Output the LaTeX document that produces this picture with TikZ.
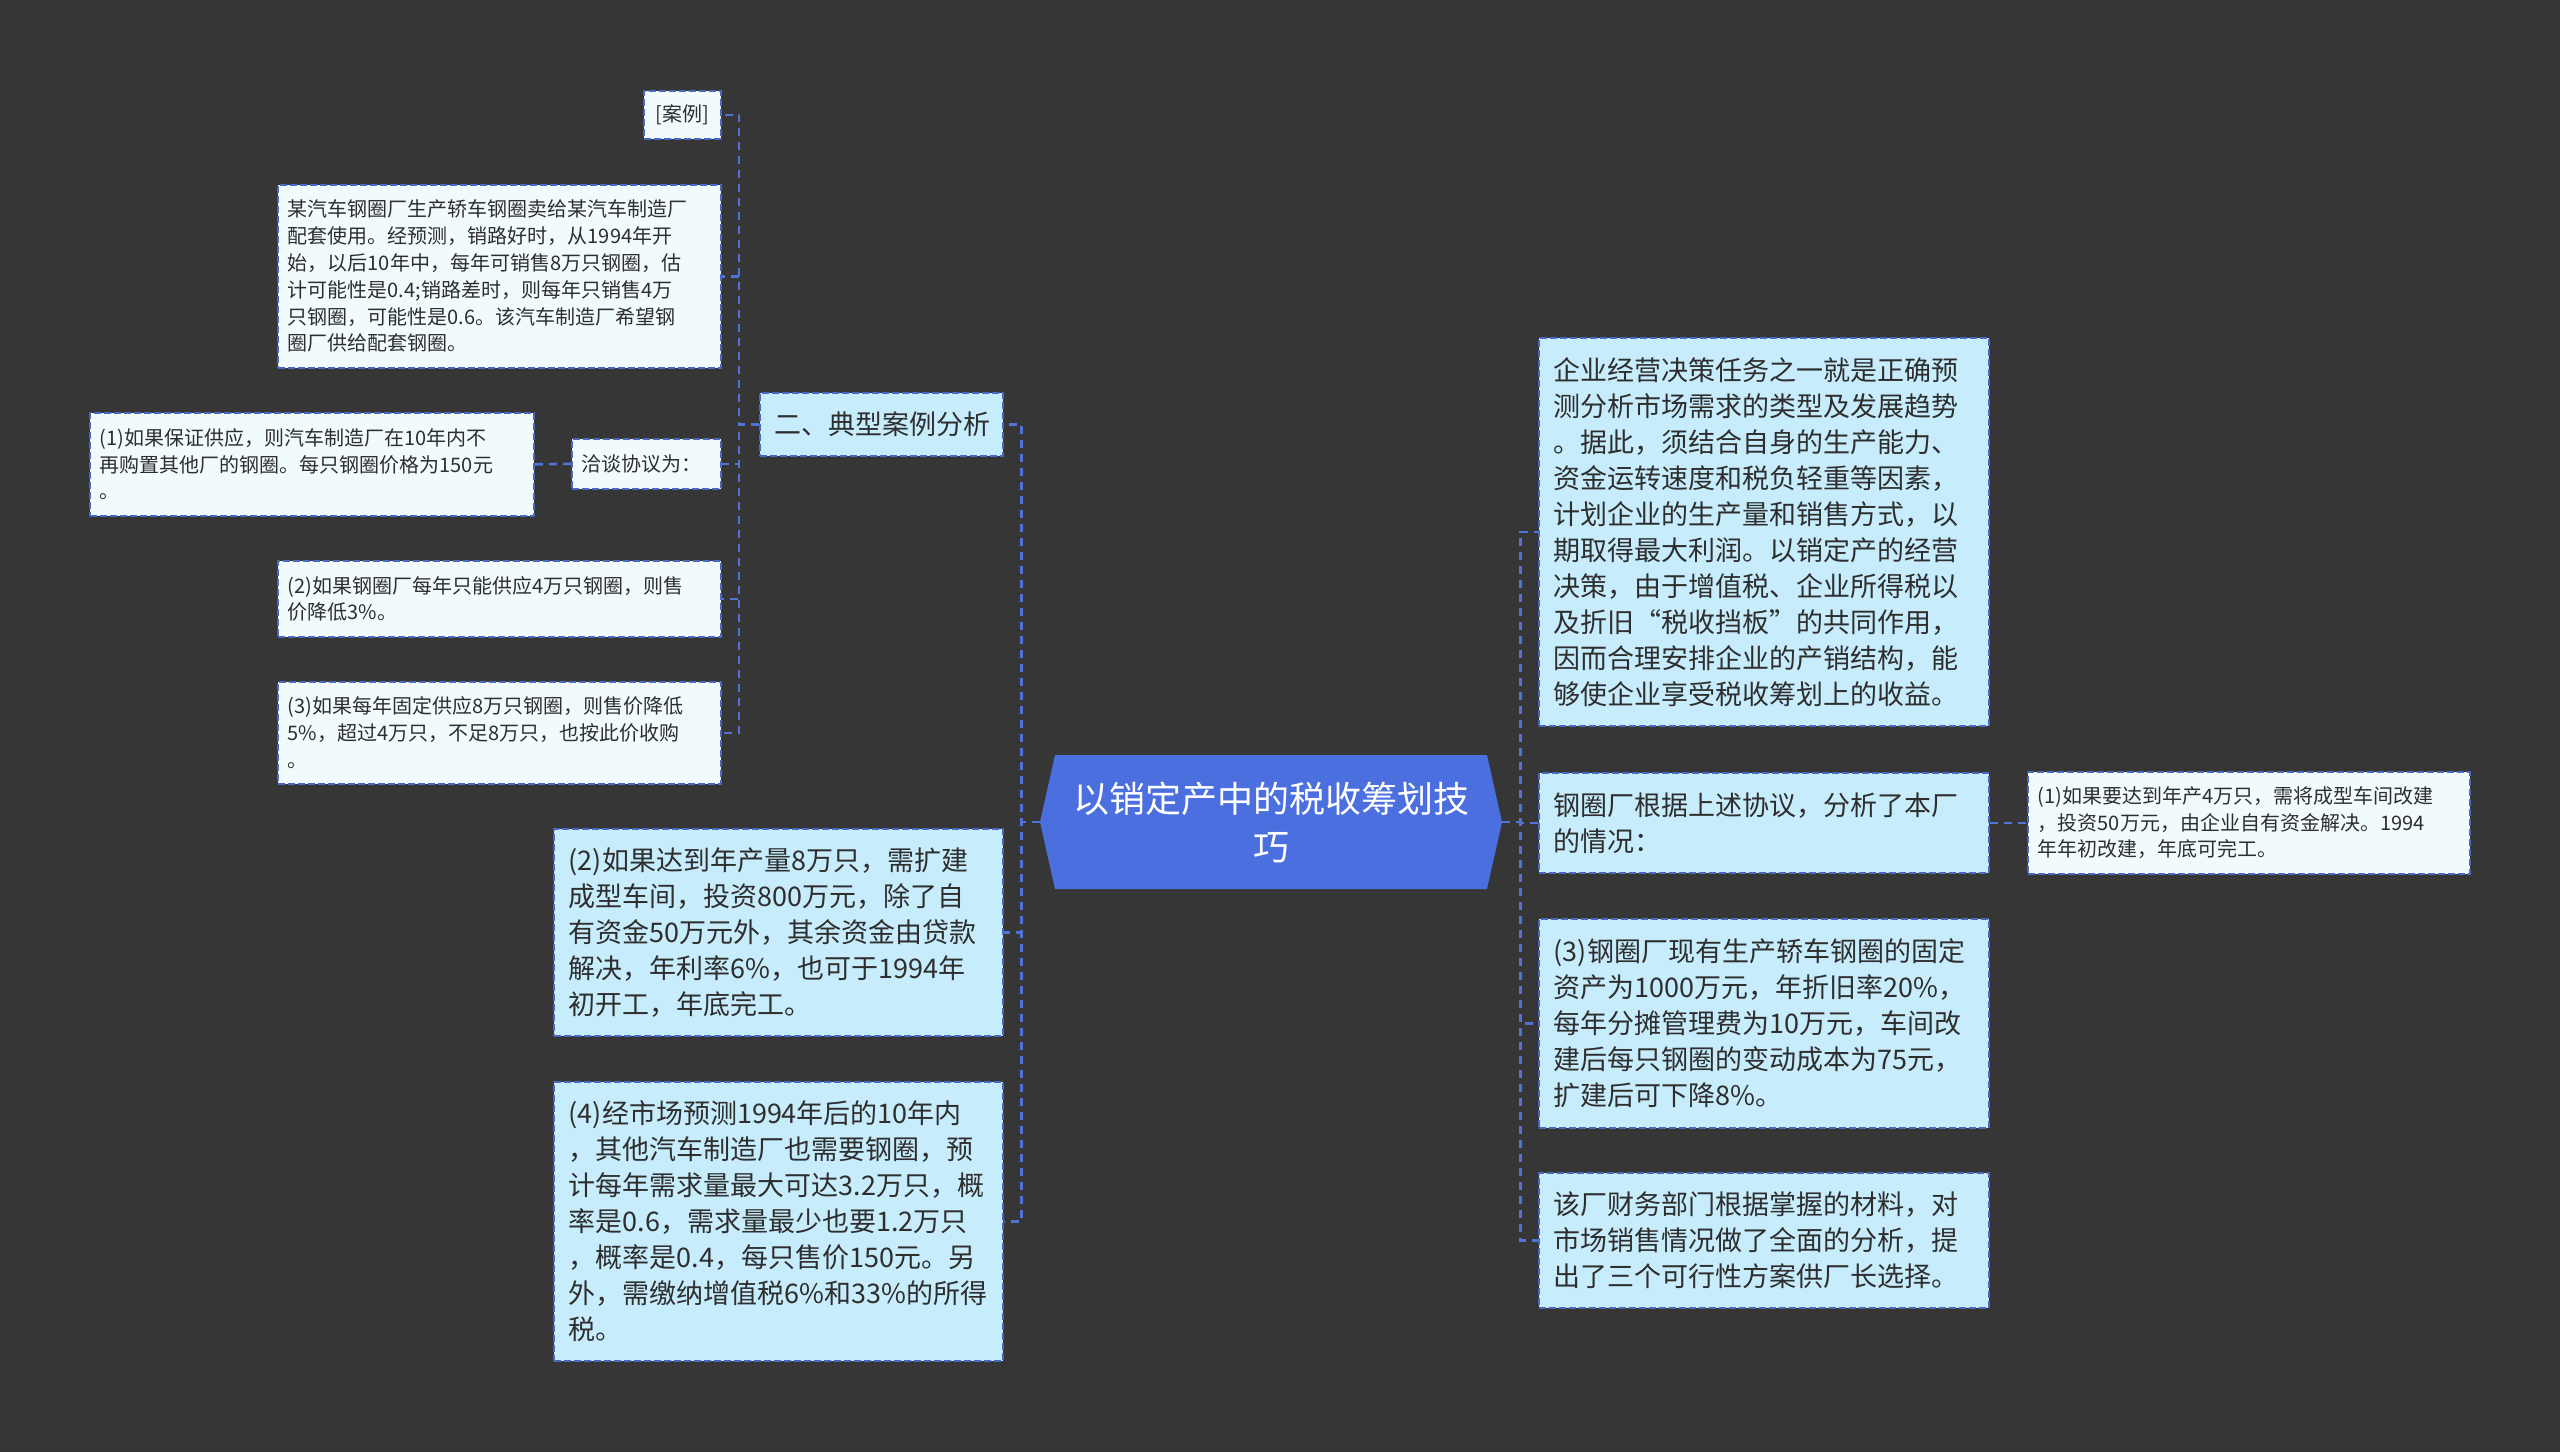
\documentclass[tikz,border=0pt]{standalone}
\usepackage{fontspec}
\setmainfont{Noto Sans CJK SC}
\definecolor{bgc}{HTML}{363636}
\definecolor{lineblue}{HTML}{5272D8}
\definecolor{boxedge}{HTML}{4A68C0}
\definecolor{palefill}{HTML}{F1FBFE}
\definecolor{bluefill}{HTML}{C7ECFC}
\definecolor{hubfill}{HTML}{4B6FDE}
\definecolor{txt}{HTML}{2E2E2E}
\tikzset{
  boxbase/.style={draw=boxedge, line width=0.8pt, dash pattern=on 3.5pt off 1.5pt,
    anchor=north west, align=left, text=txt, inner ysep=2pt},
  smallbox/.style={boxbase, fill=palefill, inner xsep=5pt,
    font=\fontsize{10pt}{13.4pt}\selectfont},
  bigbox/.style={boxbase, fill=bluefill, inner xsep=7.5pt,
    font=\fontsize{13.5pt}{18pt}\selectfont},
  conn/.style={draw=lineblue, line width=1.3pt, dash pattern=on 4pt off 3pt},
}
\begin{document}
\begin{tikzpicture}[x=1pt,y=-1pt]
\fill[bgc] (0,0) rectangle (1280,726);
\useasboundingbox (0,0) rectangle (1280,726);

% hub shape
\fill[hubfill] (520,411) -- (527.5,377.5) -- (743.5,377.5) -- (751,411) -- (743.5,444.5) -- (527.5,444.5) -- cycle;
\node[minimum width=231pt, minimum height=67pt, inner sep=0pt, align=center, text=white,
  font=\fontsize{18pt}{24pt}\selectfont] (hub) at (635.5,411) {以销定产中的税收筹划技\\巧};

% left side
\node[smallbox, minimum width=38.5pt, minimum height=24pt, align=center] (anli) at (321.5,45) {[案例]};
\node[smallbox, minimum width=221.5pt, minimum height=91.5pt, text width=211.5pt] (mou) at (138.5,92)
 {某汽车钢圈厂生产轿车钢圈卖给某汽车制造厂\\配套使用。经预测，销路好时，从1994年开\\始，以后10年中，每年可销售8万只钢圈，估\\计可能性是0.4;销路差时，则每年只销售4万\\只钢圈，可能性是0.6。该汽车制造厂希望钢\\圈厂供给配套钢圈。};
\node[smallbox, minimum width=222pt, minimum height=51.5pt, text width=212pt] (p1) at (44.5,206)
 {(1)如果保证供应，则汽车制造厂在10年内不\\再购置其他厂的钢圈。每只钢圈价格为150元\\。};
\node[smallbox, minimum width=74.5pt, minimum height=25pt, text width=64.5pt] (qiatan) at (285.5,219) {洽谈协议为：};
\node[smallbox, minimum width=221.5pt, minimum height=38pt, text width=211.5pt] (p2) at (138.5,280)
 {(2)如果钢圈厂每年只能供应4万只钢圈，则售\\价降低3\%。};
\node[smallbox, minimum width=221.5pt, minimum height=51pt, text width=211.5pt] (p3) at (138.5,340.5)
 {(3)如果每年固定供应8万只钢圈，则售价降低\\5\%，超过4万只，不足8万只，也按此价收购\\。};
\node[bigbox, minimum width=121.5pt, minimum height=31.5pt, text width=106.5pt] (dianxing) at (379.5,196) {二、典型案例分析};
\node[bigbox, minimum width=224.5pt, minimum height=103.5pt, text width=209.5pt] (q2) at (276.5,414)
 {(2)如果达到年产量8万只，需扩建\\成型车间，投资800万元，除了自\\有资金50万元外，其余资金由贷款\\解决，年利率6\%，也可于1994年\\初开工，年底完工。};
\node[bigbox, minimum width=224.5pt, minimum height=139.5pt, text width=209.5pt] (q4) at (276.5,540.5)
 {(4)经市场预测1994年后的10年内\\，其他汽车制造厂也需要钢圈，预\\计每年需求量最大可达3.2万只，概\\率是0.6，需求量最少也要1.2万只\\，概率是0.4，每只售价150元。另\\外，需缴纳增值税6\%和33\%的所得\\税。};

% right side
\node[bigbox, minimum width=225pt, minimum height=194pt, text width=210pt] (r1) at (769,168.5)
 {企业经营决策任务之一就是正确预\\测分析市场需求的类型及发展趋势\\。据此，须结合自身的生产能力、\\资金运转速度和税负轻重等因素，\\计划企业的生产量和销售方式，以\\期取得最大利润。以销定产的经营\\决策，由于增值税、企业所得税以\\及折旧“税收挡板”的共同作用，\\因而合理安排企业的产销结构，能\\够使企业享受税收筹划上的收益。};
\node[bigbox, minimum width=225pt, minimum height=50pt, text width=210pt] (r2) at (769,386)
 {钢圈厂根据上述协议，分析了本厂\\的情况：};
\node[smallbox, minimum width=221pt, minimum height=51pt, text width=211pt] (s1) at (1013.5,385.5)
 {(1)如果要达到年产4万只，需将成型车间改建\\，投资50万元，由企业自有资金解决。1994\\年年初改建，年底可完工。};
\node[bigbox, minimum width=225pt, minimum height=104.5pt, text width=210pt] (r3) at (769,459)
 {(3)钢圈厂现有生产轿车钢圈的固定\\资产为1000万元，年折旧率20\%，\\每年分摊管理费为10万元，车间改\\建后每只钢圈的变动成本为75元，\\扩建后可下降8\%。};
\node[bigbox, minimum width=225pt, minimum height=67.5pt, text width=210pt] (r4) at (769,586)
 {该厂财务部门根据掌握的材料，对\\市场销售情况做了全面的分析，提\\出了三个可行性方案供厂长选择。};

% connectors
\foreach \c in {dianxing,q2,q4}
  \draw[conn] (hub.west) -- ++(-9,0) |- (\c.east);
\foreach \c in {r1,r2,r3,r4}
  \draw[conn] (hub.east) -- ++(9,0) |- (\c.west);
\foreach \c in {anli,mou,qiatan,p2,p3}
  \draw[conn] (dianxing.west) -- ++(-10,0) |- (\c.east);
\draw[conn] (qiatan.west) -- (p1.east);
\draw[conn] (r2.east) -- (s1.west);
\end{tikzpicture}
\end{document}
